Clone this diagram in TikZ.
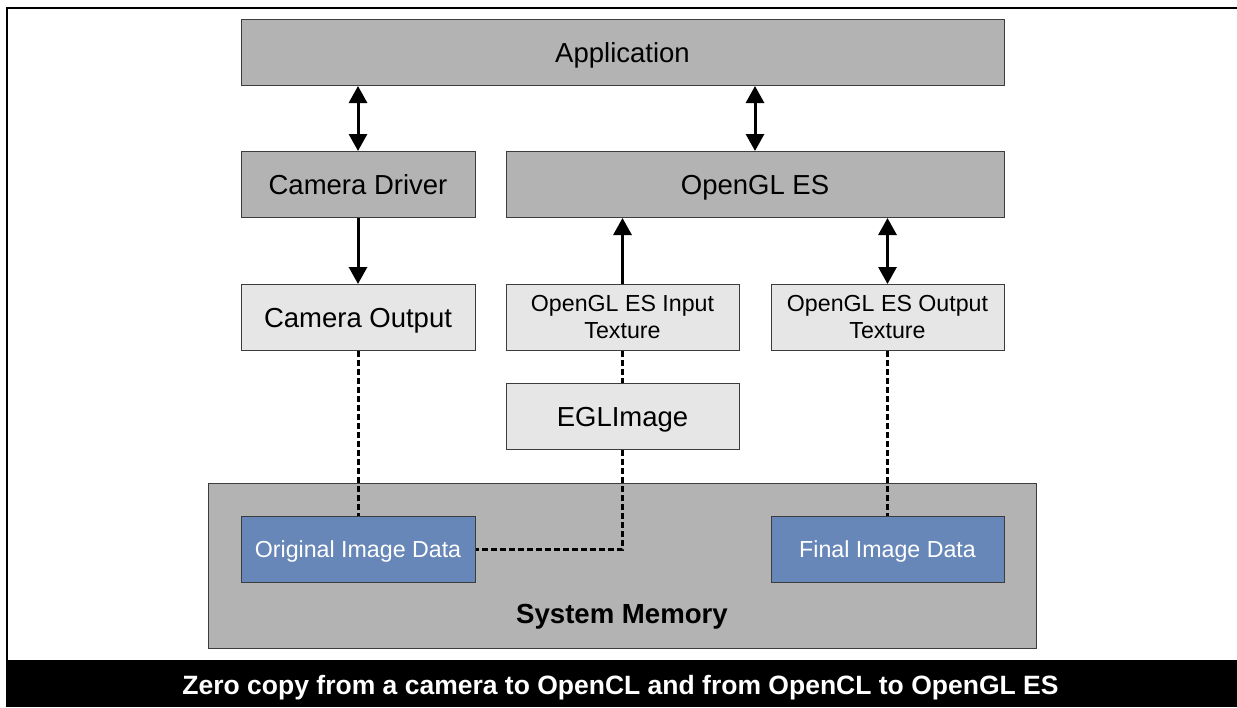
\documentclass[tikz,border=0pt]{standalone}
\usepackage{fontspec}
\setmainfont{Liberation Sans}
\usetikzlibrary{arrows.meta}
\usepackage{xcolor}
\definecolor{boxdark}{HTML}{B3B3B3}
\definecolor{boxlight}{HTML}{E6E6E6}
\definecolor{boxblue}{HTML}{6787B9}
\definecolor{edgegray}{HTML}{3C3C3C}

\tikzset{
  blk/.style={draw=edgegray,line width=1pt,minimum width=#1,minimum height=66,inner sep=0pt,align=center},
  big/.style={font=\fontsize{27.5}{33}\selectfont,text height=19.8pt,text depth=0pt},
  small/.style={font=\fontsize{23.2}{27}\selectfont},
  onerow/.style={text height=16.7pt,text depth=0pt},
  link/.style={line width=3pt,-{Triangle[width=18pt,length=17pt]}},
  dlink/.style={line width=3pt,{Triangle[width=18pt,length=17pt]}-{Triangle[width=18pt,length=17pt]}},
  share/.style={line width=3pt,dash pattern=on 6pt off 3pt},
}

\begin{document}
\begin{tikzpicture}[x=1pt,y=-1pt]

\useasboundingbox (0,0) rectangle (1237,707);
\draw[line width=2.2pt] (7,7.7) rectangle (1250,661);

\node (app)    [blk=763,fill=boxdark,big]  at (622.5,52.5) {Application};
\node (camdrv) [blk=234,fill=boxdark,big]  at (358,184.5)  {Camera Driver};
\node (gles)   [blk=498,fill=boxdark,big]  at (755,184.5)  {OpenGL ES};

\node (camout) [blk=234,fill=boxlight,big]   at (358,317.5)   {Camera Output};
\node (intex)  [blk=233,fill=boxlight,small] at (622.5,317.5) {OpenGL ES Input\\Texture};
\node (outtex) [blk=233,fill=boxlight,small] at (887.5,317.5) {OpenGL ES Output\\Texture};
\node (egl)    [blk=233,fill=boxlight,big]   at (622.5,416.5) {EGLImage};

\node (sysmem) [blk=828,minimum height=165,fill=boxdark] at (622,565.5) {};
\node (sysmemlbl) [font=\fontsize{27.6}{33}\selectfont\bfseries,text height=19.9pt,text depth=0pt] at (622,614) {System Memory};
\node (origdata)  [blk=234,fill=boxblue,small,onerow,text=white] at (358,549)   {Original Image Data};
\node (finaldata) [blk=233,fill=boxblue,small,onerow,text=white] at (887.5,549) {Final Image Data};

\node (caption) [fill=black,minimum width=1240,minimum height=46,inner sep=0pt,anchor=north west] at (6,661) {};
\node (captxt) [text=white,font=\fontsize{26.5}{30}\selectfont\bfseries,text height=19pt,text depth=0pt] at (620.5,685) {Zero copy from a camera to OpenCL and from OpenCL to OpenGL ES};

% control
\draw[dlink] (app.south -| camdrv) -- (camdrv.north);
\draw[dlink] (app.south -| gles) -- (gles.north);
\draw[link]  (camdrv) -- (camout);
\draw[link]  (intex) -- (intex |- gles.south);
\draw[dlink] (gles.south -| outtex) -- (outtex.north);

% shared memory
\draw[share] (camout) -- (origdata);
\draw[share] (intex) -- (egl);
\draw[share] (egl.south) |- (origdata.east);
\draw[share] (outtex) -- (finaldata);

\end{tikzpicture}
\end{document}
